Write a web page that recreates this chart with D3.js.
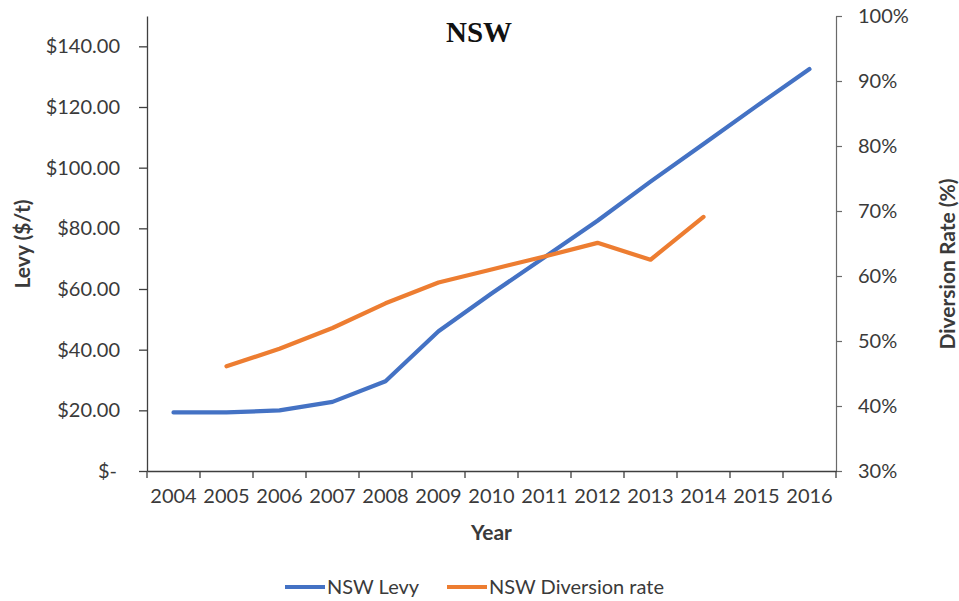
<!DOCTYPE html>
<html>
<head>
<meta charset="utf-8">
<script src="https://cdn.jsdelivr.net/npm/d3@7"></script>
<style>
  html, body { margin: 0; padding: 0; background: #fff; }
  svg { display: block; }
  .tick text { font-family: Lato, "Open Sans", sans-serif; font-size: 20px; fill: #3a3a3a; }
</style>
</head>
<body>
<svg id="chart" width="959" height="601"></svg>
<script>
// NSW waste levy ($/t) and diversion rate (%) by year
const years = ["2004","2005","2006","2007","2008","2009","2010","2011","2012","2013","2014","2015","2016"];
const levy = [19.3, 19.3, 20.0, 22.8, 29.6, 46.1, 58.5, 70.5, 82.5, 95.4, 107.8, 120.3, 132.5];
const diversion = [null, 46.1, 48.8, 52.0, 55.8, 59.0, 61.0, 63.0, 65.1, 62.5, 69.1, null, null];
const levyTicks = [0, 20, 40, 60, 80, 100, 120, 140];
const rateTicks = [30, 40, 50, 60, 70, 80, 90, 100];

const svg = d3.select("#chart");
const plotLeft = 147, plotRight = 836, plotTop = 16, plotBottom = 471;
const axisColor = "#3f3f3f";
const font = "Lato, 'Open Sans', sans-serif";

const x = d3.scaleBand().domain(years).range([plotLeft, plotRight]).padding(0);
const yL = d3.scaleLinear().domain([0, 150]).range([plotBottom, plotTop]);
const yR = d3.scaleLinear().domain([30, 100]).range([plotBottom, plotTop]);
const cx = d => x(d) + x.bandwidth() / 2;

// Left axis: levy
const gL = svg.append("g").attr("transform", `translate(${plotLeft},0)`)
  .call(d3.axisLeft(yL).tickValues(levyTicks).tickSizeInner(8).tickSizeOuter(0).tickPadding(19)
    .tickFormat(d => d === 0 ? "$-" : "$" + d3.format(".2f")(d)));
gL.select(".domain").attr("stroke", axisColor).attr("stroke-width", 1.3);
gL.selectAll(".tick line").attr("stroke", axisColor).attr("stroke-width", 1.3);
gL.select(".tick:first-of-type text").attr("dx", -3);

// Right axis: diversion rate
const gR = svg.append("g").attr("transform", `translate(${plotRight},0)`)
  .call(d3.axisRight(yR).tickValues(rateTicks).tickSizeInner(6).tickSizeOuter(0).tickPadding(16)
    .tickFormat(d => d + "%"));
gR.select(".domain").attr("stroke", "#6a6a6a").attr("stroke-width", 1.2);
gR.selectAll(".tick line").attr("stroke", "#6a6a6a").attr("stroke-width", 1.2);

// Bottom axis: year labels centred in each band, ticks on band edges
const gX = svg.append("g").attr("transform", `translate(0,${plotBottom})`)
  .call(d3.axisBottom(x).tickSize(0).tickSizeOuter(0).tickPadding(18));
gX.select(".domain").attr("stroke", axisColor).attr("stroke-width", 1.3);
gX.selectAll(".tick text").attr("dy", "0.71em");
gX.selectAll("line.edge")
  .data(years.map(d => x(d)).concat([plotRight]))
  .enter().append("line")
  .attr("class", "edge")
  .attr("x1", d => d).attr("x2", d => d)
  .attr("y1", 0).attr("y2", 7)
  .attr("stroke", axisColor).attr("stroke-width", 1.3);

// Series lines
const levyLine = d3.line().x((d, i) => cx(years[i])).y(d => yL(d));
svg.append("path")
  .datum(levy)
  .attr("d", levyLine)
  .attr("fill", "none").attr("stroke", "#4472C4").attr("stroke-width", 4.2)
  .attr("stroke-linejoin", "round").attr("stroke-linecap", "round");

const rateLine = d3.line().defined(d => d != null).x((d, i) => cx(years[i])).y(d => yR(d));
svg.append("path")
  .datum(diversion)
  .attr("d", rateLine)
  .attr("fill", "none").attr("stroke", "#ED7D31").attr("stroke-width", 4.2)
  .attr("stroke-linejoin", "round").attr("stroke-linecap", "round");

// Title
svg.append("text")
  .attr("x", 479).attr("y", 42)
  .attr("text-anchor", "middle")
  .attr("font-family", "'Liberation Serif', 'DejaVu Serif', serif")
  .attr("font-weight", "bold").attr("font-size", 29).attr("fill", "#111")
  .text("NSW");

// Axis titles
svg.append("text")
  .attr("transform", "translate(30,244) rotate(-90)")
  .attr("text-anchor", "middle")
  .attr("font-family", font).attr("font-weight", "bold").attr("font-size", 21).attr("fill", "#3a3a3a")
  .text("Levy ($/t)");

svg.append("text")
  .attr("transform", "translate(955,264) rotate(-90)")
  .attr("text-anchor", "middle")
  .attr("font-family", font).attr("font-weight", "bold").attr("font-size", 21).attr("fill", "#3a3a3a")
  .text("Diversion Rate (%)");

svg.append("text")
  .attr("x", (plotLeft + plotRight) / 2).attr("y", 540)
  .attr("text-anchor", "middle")
  .attr("font-family", font).attr("font-weight", "bold").attr("font-size", 21).attr("fill", "#3a3a3a")
  .text("Year");

// Legend
const legend = [
  { name: "NSW Levy", color: "#4472C4", x: 285 },
  { name: "NSW Diversion rate", color: "#ED7D31", x: 447 }
];
const lg = svg.append("g").attr("transform", "translate(0,587)");
legend.forEach(l => {
  lg.append("line")
    .attr("x1", l.x).attr("x2", l.x + 40).attr("y1", 0).attr("y2", 0)
    .attr("stroke", l.color).attr("stroke-width", 4.2);
  lg.append("text")
    .attr("x", l.x + 42).attr("y", 0).attr("dy", "0.35em")
    .attr("font-family", font).attr("font-size", 20).attr("fill", "#3a3a3a")
    .text(l.name);
});
</script>
</body>
</html>
